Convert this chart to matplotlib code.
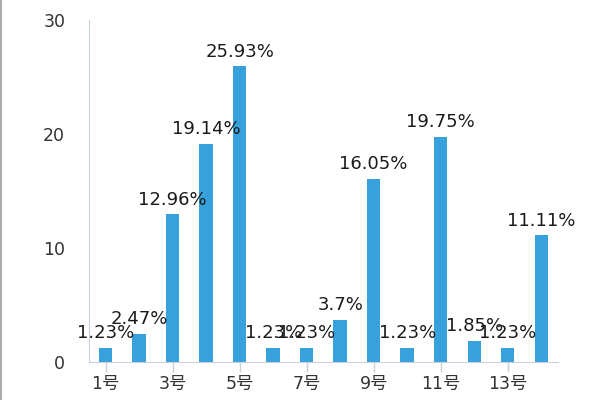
import matplotlib
matplotlib.use("Agg")
import matplotlib.pyplot as plt
from matplotlib.lines import Line2D

plt.rcParams['font.family'] = ['DejaVu Sans', 'Noto Sans CJK SC']

# data
categories = [str(i) + "号" for i in range(1, 15)]
values = [1.23, 2.47, 12.96, 19.14, 25.93, 1.23, 1.23, 3.7, 16.05, 1.23, 19.75, 1.85, 1.23, 11.11]
labels = ["1.23%", "2.47%", "12.96%", "19.14%", "25.93%", "1.23%", "1.23%",
          "3.7%", "16.05%", "1.23%", "19.75%", "1.85%", "1.23%", "11.11%"]
y_ticks = [0, 10, 20, 30]

fig = plt.figure(figsize=(6, 4), dpi=100)
ax = fig.add_axes([0.148, 0.095, 0.782, 0.855])

x = list(range(len(values)))
ax.bar(x, values, width=0.4, color="#36a1db")

for xi, v, lab in zip(x, values, labels):
    ax.annotate(lab, (xi, v), xytext=(0, 4), textcoords="offset points",
                ha="center", va="bottom", fontsize=13, color="#1a1a1a")

ax.set_xlim(-0.5, len(values) - 0.5)
ax.set_ylim(0, 30)
ax.set_yticks(y_ticks)
ax.set_xticks(x[::2])
ax.set_xticklabels(categories[::2])

ax.tick_params(axis="y", length=0, pad=17, labelsize=12.5, labelcolor="#333333")
ax.tick_params(axis="x", length=7, width=1, color="#c8d0dc", labelsize=12.5,
               labelcolor="#333333", pad=2)

for s in ["top", "right"]:
    ax.spines[s].set_visible(False)
ax.spines["left"].set_color("#c8d0dc")
ax.spines["bottom"].set_color("#c8d0dc")

# screenshot border on the left edge
fig.add_artist(Line2D([0.002, 0.002], [0, 1], transform=fig.transFigure, color="#999999", lw=1.2))

fig.savefig("out.png", dpi=100, facecolor="white")
